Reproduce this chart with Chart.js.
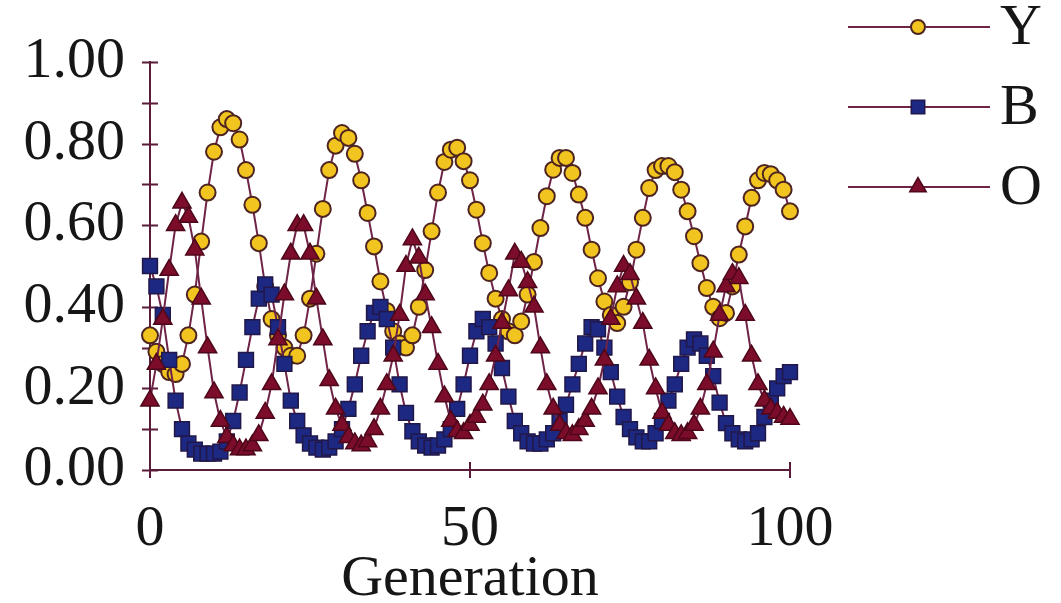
<!DOCTYPE html>
<html>
<head>
<meta charset="utf-8">
<title>Morph frequencies by generation</title>
<script src="https://cdn.jsdelivr.net/npm/chart.js@4.4.1/dist/chart.umd.min.js"></script>
<style>
  html, body { margin: 0; padding: 0; background: #ffffff; }
  #wrap { width: 1061px; height: 603px; position: relative; }
</style>
</head>
<body>
<div id="wrap"><canvas id="chart"></canvas></div>
<script>
// Generations 0..100 on the x axis
const generations = Array.from({ length: 101 }, (_, i) => i);

const seriesNames = ['Y', 'B', 'O'];

// Frequency of each morph per generation
const yValues = [
  0.33, 0.29, 0.26, 0.24, 0.235, 0.26, 0.33, 0.43, 0.56, 0.68,
  0.78, 0.84, 0.86, 0.85, 0.81, 0.735, 0.65, 0.556, 0.45, 0.37,
  0.33, 0.30, 0.28, 0.28, 0.33, 0.42, 0.53, 0.64, 0.735, 0.795,
  0.826, 0.814, 0.775, 0.71, 0.63, 0.548, 0.462, 0.39, 0.34, 0.31,
  0.30, 0.33, 0.40, 0.49, 0.585, 0.68, 0.755, 0.785, 0.79, 0.757,
  0.71, 0.638, 0.556, 0.483, 0.42, 0.37, 0.34, 0.33, 0.364, 0.43,
  0.51, 0.593, 0.671, 0.736, 0.765, 0.765, 0.728, 0.675, 0.618, 0.54,
  0.47, 0.413, 0.38, 0.36, 0.40, 0.46, 0.54, 0.618, 0.691, 0.735,
  0.745, 0.745, 0.73, 0.687, 0.634, 0.573, 0.507, 0.446, 0.40, 0.372,
  0.385, 0.45, 0.528, 0.597, 0.667, 0.71, 0.728, 0.725, 0.71, 0.687,
  0.634
];

const bValues = [
  0.50, 0.45, 0.38, 0.27, 0.17, 0.10, 0.065, 0.05, 0.04, 0.04,
  0.04, 0.045, 0.07, 0.12, 0.19, 0.27, 0.35, 0.42, 0.455, 0.43,
  0.35, 0.26, 0.17, 0.12, 0.085, 0.065, 0.055, 0.05, 0.055, 0.07,
  0.10, 0.15, 0.21, 0.28, 0.34, 0.385, 0.40, 0.37, 0.30, 0.21,
  0.14, 0.095, 0.07, 0.06, 0.055, 0.06, 0.075, 0.10, 0.15, 0.21,
  0.28, 0.34, 0.37, 0.35, 0.31, 0.25, 0.18, 0.12, 0.09, 0.07,
  0.065, 0.065, 0.075, 0.09, 0.12, 0.16, 0.21, 0.26, 0.31, 0.35,
  0.345, 0.30, 0.24, 0.18, 0.13, 0.10, 0.08, 0.07, 0.07, 0.09,
  0.12, 0.17, 0.21, 0.26, 0.30, 0.32, 0.31, 0.28, 0.23, 0.165,
  0.115, 0.09, 0.075, 0.07, 0.075, 0.09, 0.13, 0.17, 0.20, 0.23,
  0.24
];

const oValues = [
  0.17, 0.26, 0.37, 0.49, 0.60, 0.655, 0.62, 0.54, 0.42, 0.30,
  0.19, 0.12, 0.08, 0.06, 0.05, 0.05, 0.06, 0.085, 0.14, 0.21,
  0.32, 0.43, 0.53, 0.60, 0.60, 0.53, 0.42, 0.32, 0.22, 0.15,
  0.11, 0.08, 0.065, 0.06, 0.07, 0.10, 0.15, 0.21, 0.28, 0.38,
  0.50, 0.565, 0.52, 0.43, 0.35, 0.26, 0.18, 0.12, 0.095, 0.09,
  0.11, 0.13, 0.16, 0.21, 0.28, 0.36, 0.44, 0.53, 0.51, 0.46,
  0.40, 0.30, 0.21, 0.15, 0.11, 0.09, 0.085, 0.10, 0.12, 0.15,
  0.20, 0.27, 0.37, 0.45, 0.50, 0.48, 0.42, 0.36, 0.27, 0.20,
  0.14, 0.11, 0.09, 0.085, 0.09, 0.11, 0.15, 0.21, 0.29, 0.38,
  0.45, 0.48, 0.47, 0.38, 0.28, 0.21, 0.17, 0.15, 0.14, 0.13,
  0.125
];

const yTickValues = [0, 0.2, 0.4, 0.6, 0.8, 1.0];
const xTickValues = [0, 50, 100];

const LINE_COLOR = '#6e2347';
const AXIS_COLOR = '#5a1c3a';
const TEXT_COLOR = '#161616';
const SERIF = '"Liberation Serif", "Times New Roman", serif';

const toPoints = values => values.map((v, i) => ({ x: generations[i], y: v }));

const markerStyles = [
  { pointStyle: 'circle',   radius: 8,    fill: '#f2c41f', edge: '#4e2420', edgeWidth: 2,   order: 3 },
  { pointStyle: 'rect',     radius: 10.5, fill: '#1d2882', edge: '#211748', edgeWidth: 1.5, order: 2 },
  { pointStyle: 'triangle', radius: 10.5, fill: '#7b0d2a', edge: '#4e071a', edgeWidth: 1.5, order: 1 }
];

const seriesValues = [yValues, bValues, oValues];

const datasets = seriesNames.map((name, k) => ({
  label: name,
  data: toPoints(seriesValues[k]),
  borderColor: LINE_COLOR,
  borderWidth: 2,
  backgroundColor: markerStyles[k].fill,
  pointStyle: markerStyles[k].pointStyle,
  pointRadius: markerStyles[k].radius,
  pointBackgroundColor: markerStyles[k].fill,
  pointBorderColor: markerStyles[k].edge,
  pointBorderWidth: markerStyles[k].edgeWidth,
  tension: 0,
  fill: false,
  clip: false,
  order: markerStyles[k].order
}));

// Tick marks that cross both axes, drawn under the data
const crossTicks = {
  id: 'crossTicks',
  beforeDatasetsDraw(chart) {
    const { ctx, scales: { x, y } } = chart;
    const x0 = x.getPixelForValue(0);
    const y0 = y.getPixelForValue(0);
    ctx.save();
    ctx.strokeStyle = AXIS_COLOR;
    ctx.lineWidth = 2;
    ctx.beginPath();
    for (let i = 0; i <= 10; i++) {
      const py = Math.round(y.getPixelForValue(i / 10)) + 0.5;
      ctx.moveTo(x0 - 8, py);
      ctx.lineTo(x0 + 8, py);
    }
    xTickValues.forEach(v => {
      const px = Math.round(x.getPixelForValue(v));
      ctx.moveTo(px, y0 - 8);
      ctx.lineTo(px, y0 + 8);
    });
    ctx.stroke();
    ctx.restore();
  }
};

// Line-and-marker legend at the upper right
const sideLegend = {
  id: 'sideLegend',
  afterDraw(chart) {
    const { ctx } = chart;
    const rows = [27, 107, 187];
    ctx.save();
    chart.data.datasets.forEach((ds, k) => {
      const cy = rows[k];
      ctx.strokeStyle = LINE_COLOR;
      ctx.lineWidth = 2;
      ctx.beginPath();
      ctx.moveTo(848, cy);
      ctx.lineTo(990, cy);
      ctx.stroke();
      ctx.fillStyle = ds.pointBackgroundColor;
      ctx.strokeStyle = ds.pointBorderColor;
      ctx.lineWidth = ds.pointBorderWidth;
      Chart.helpers.drawPoint(ctx, {
        pointStyle: ds.pointStyle,
        radius: ds.pointRadius - 1,
        borderWidth: ds.pointBorderWidth,
        rotation: 0
      }, 918, cy);
      ctx.fillStyle = TEXT_COLOR;
      ctx.font = '58px ' + SERIF;
      ctx.textAlign = 'left';
      ctx.textBaseline = 'middle';
      ctx.fillText(ds.label, 1000, cy + 2);
    });
    ctx.restore();
  }
};

new Chart(document.getElementById('chart'), {
  type: 'line',
  data: { datasets },
  plugins: [crossTicks, sideLegend],
  options: {
    responsive: true,
    maintainAspectRatio: false,
    animation: false,
    devicePixelRatio: 1,
    layout: { padding: { top: 62, right: 271, bottom: 0, left: 0 } },
    plugins: {
      legend: { display: false },
      tooltip: { enabled: false }
    },
    scales: {
      x: {
        type: 'linear',
        min: 0,
        max: 100,
        afterBuildTicks: s => { s.ticks = xTickValues.map(v => ({ value: v })); },
        afterFit: s => { s.height = 133; },
        grid: { display: false },
        border: { display: true, color: AXIS_COLOR, width: 2 },
        ticks: {
          font: { family: SERIF, size: 58 },
          color: TEXT_COLOR,
          padding: 17,
          maxRotation: 0,
          autoSkip: false,
          callback: v => String(v)
        },
        title: {
          display: true,
          text: 'Generation',
          font: { family: SERIF, size: 58, lineHeight: 0.8 },
          color: TEXT_COLOR,
          padding: { top: 0, bottom: 0 }
        }
      },
      y: {
        type: 'linear',
        min: 0,
        max: 1,
        afterBuildTicks: s => { s.ticks = yTickValues.map(v => ({ value: v })); },
        afterFit: s => { s.width = 150; },
        grid: { display: false },
        border: { display: true, color: AXIS_COLOR, width: 2 },
        ticks: {
          font: { family: SERIF, size: 58 },
          color: TEXT_COLOR,
          padding: 17,
          autoSkip: false,
          callback: v => Number(v).toFixed(2)
        }
      }
    }
  }
});
</script>
</body>
</html>
